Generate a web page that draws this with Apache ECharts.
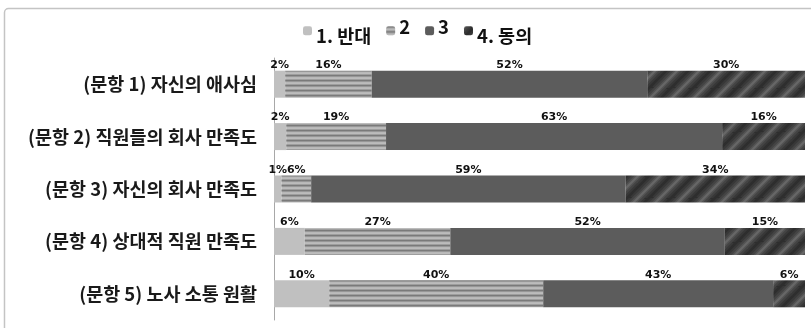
<!DOCTYPE html>
<html><head><meta charset="utf-8">
<script src="https://cdn.jsdelivr.net/npm/echarts@6/dist/echarts.min.js"></script>
<style>html,body{margin:0;padding:0;background:#fff}#c{width:811px;height:328px}</style>
</head><body><div id="c"></div>
<script>
const categories = ['(문항 1) 자신의 애사심', '(문항 2) 직원들의 회사 만족도', '(문항 3) 자신의 회사 만족도', '(문항 4) 상대적 직원 만족도', '(문항 5) 노사 소통 원활'];
const seriesNames = ['1. 반대', '2', '3', '4. 동의'];
const s1 = [2.1, 2.3, 1.4, 5.8, 10.4];
const s2 = [16.3, 18.8, 5.6, 27.4, 40.3];
const s3 = [51.9, 63.3, 59.2, 51.7, 43.3];
const s4 = [29.7, 15.6, 33.8, 15.1, 6.0];

function hStripes() {
  const c = document.createElement('canvas'); c.width = 8; c.height = 5;
  const g = c.getContext('2d');
  const rows = ['#7a7a7a', '#979797', '#b8b8b8', '#bcbcbc', '#9e9e9e'];
  rows.forEach((col, i) => { g.fillStyle = col; g.fillRect(0, i, 8, 1); });
  return c;
}
function dStripes() {
  const P = 22;
  const c = document.createElement('canvas'); c.width = P; c.height = P;
  const g = c.getContext('2d');
  g.fillStyle = '#2e2e2e'; g.fillRect(0, 0, P, P);
  const draw = (w, col) => {
    g.strokeStyle = col; g.lineWidth = w;
    for (let k = -P; k <= P; k += P) {
      g.beginPath(); g.moveTo(k - 3, P + 3); g.lineTo(k + P + 3, -3); g.stroke();
    }
  };
  draw(13, '#383838');
  draw(9, '#444444');
  draw(5, '#545454');
  draw(2, '#676767');
  return c;
}

const fills = ['#c0c0c0', { image: hStripes(), repeat: 'repeat' }, '#5c5c5c', { image: dStripes(), repeat: 'repeat' }];
const values = [s1, s2, s3, s4];

const chart = echarts.init(document.getElementById('c'), null, { renderer: 'canvas' });
chart.setOption({
  animation: false,
  backgroundColor: '#fff',
  graphic: [{ type: 'rect', shape: { x: 4.5, y: 8.5, width: 830, height: 340, r: 4 }, style: { fill: 'none', stroke: '#c4c4c4', lineWidth: 1.5 }, silent: true }],
  legend: {
    left: 303, top: 18, padding: 0, itemWidth: 9, itemHeight: 9, itemGap: 15,
    formatter: n => n.length > 1 ? '{k|' + n + '}' : '{n|' + n + '}',
    textStyle: {
      fontFamily: 'Noto Sans CJK KR', fontWeight: 'bold', fontSize: 18, color: '#111', padding: [0, 0, 0, -1],
      rich: {
        k: { fontFamily: 'Noto Sans CJK KR', fontWeight: 'bold', fontSize: 18.5, color: '#111', padding: [10, 0, 0, 0] },
        n: { fontFamily: 'Noto Sans CJK KR', fontWeight: 'bold', fontSize: 18.5, color: '#111', padding: [0, 0, 7, 0] }
      }
    },
    data: seriesNames
  },
  grid: { left: 274, right: 6, top: 58, bottom: 8, containLabel: false },
  xAxis: { type: 'value', min: 0, max: 100, show: false },
  yAxis: {
    type: 'category', data: categories, inverse: true,
    axisLine: { show: true, lineStyle: { color: '#a8a8a8', width: 1 } },
    axisTick: { show: false },
    axisLabel: { margin: 17, fontFamily: 'Noto Sans CJK KR', fontWeight: 'bold', fontSize: 18.5, color: '#1a1a1a', padding: [4, 0, 0, 0] }
  },
  series: values.map((v, i) => ({
    name: seriesNames[i], type: 'bar', stack: 'total', data: v, barWidth: 27,
    itemStyle: { color: fills[i] },
    label: {
      show: true, position: 'top', distance: 0,
      formatter: p => Math.round(p.value) + '%',
      fontFamily: 'DejaVu Sans', fontWeight: 'bold', fontSize: 11, color: '#111'
    }
  }))
});
</script></body></html>
